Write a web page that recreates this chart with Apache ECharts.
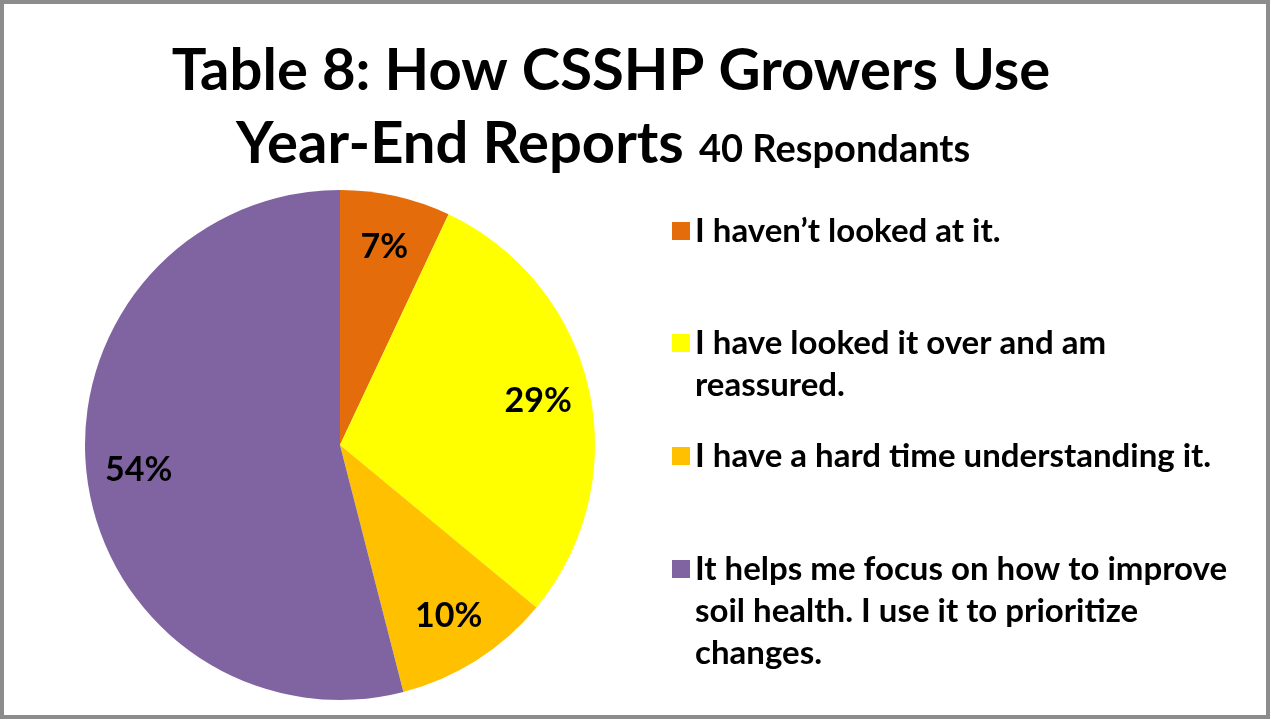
<!DOCTYPE html>
<html>
<head>
<meta charset="utf-8">
<title>Table 8: How CSSHP Growers Use Year-End Reports</title>
<script src="https://cdn.jsdelivr.net/npm/echarts@6/dist/echarts.min.js"></script>
<style>
  html, body { margin: 0; padding: 0; background: #fff; }
  #chart { width: 1271px; height: 720px; }
</style>
</head>
<body>
<div id="chart"></div>
<script>
// answers and share of respondents (%)
const categories = [
  "I haven\u2019t looked at it.",
  "I have looked it over and am reassured.",
  "I have a hard time understanding it.",
  "It helps me focus on how to improve soil health. I use it to prioritize changes."
];
const percents = [7, 29, 10, 54];
const colors = ["#E46C0A", "#FFFF00", "#FFC000", "#8064A2"];

// legend text wrapped like the original
const legendLines = [
  ["I haven\u2019t looked at it."],
  ["I have looked it over and am", "reassured."],
  ["I have a hard time understanding it."],
  ["It helps me focus on how to improve", "soil health. I use it to prioritize", "changes."]
];

const FONT = "Lato, 'Open Sans', sans-serif";
const LEGEND_LH = 42;
// y of the first text line of every legend entry
const legendRowY = [231, 343, 456, 569];

const pieData = categories.map((name, i) => ({
  name: name,
  value: percents[i],
  itemStyle: { color: colors[i] }
}));

// one legend per entry so each can sit where it does in the picture.
// legend text is centred on the marker, so blank lines are put in front
// of wrapped entries to keep the marker next to the first line
const legends = categories.map((name, i) => {
  const n = legendLines[i].length;
  return {
    data: [name],
    orient: "vertical",
    left: 672,
    top: legendRowY[i] - (n - 1) * LEGEND_LH - LEGEND_LH / 2,
    padding: 0,
    icon: "rect",
    itemWidth: 18,
    itemHeight: 18,
    selectedMode: false,
    formatter: () => "\n".repeat(n - 1) + legendLines[i].join("\n"),
    textStyle: {
      fontFamily: FONT,
      fontWeight: "bold",
      fontSize: 33,
      lineHeight: LEGEND_LH,
      color: "#000"
    }
  };
});

const titleStyle = { fontFamily: FONT, fontWeight: "bold", color: "#000" };

const chart = echarts.init(document.getElementById("chart"));

chart.setOption({
  animation: false,
  backgroundColor: "#fff",
  title: [
    {
      text: "Table 8: How CSSHP Growers Use",
      left: 606,
      top: 37,
      textAlign: "center",
      textStyle: Object.assign({ fontSize: 58 }, titleStyle)
    },
    {
      text: "Year-End Reports",
      left: 231,
      top: 110,
      textStyle: Object.assign({ fontSize: 58 }, titleStyle)
    },
    {
      text: "40 Respondants",
      left: 694,
      top: 126,
      textStyle: Object.assign({ fontSize: 38 }, titleStyle)
    }
  ],
  legend: legends,
  graphic: [{
    type: "rect",
    shape: { x: 2, y: 2, width: 1266, height: 715 },
    style: { fill: "none", stroke: "#8c8c8c", lineWidth: 4 },
    silent: true
  }],
  series: [
    {
      name: "Responses",
      type: "pie",
      center: [340, 445],
      radius: 255,
      startAngle: 90,
      clockwise: true,
      label: { show: false },
      labelLine: { show: false },
      emphasis: { disabled: true },
      data: pieData
    },
    {
      // transparent ring, only carries the percentage labels
      name: "labels",
      type: "pie",
      center: [340, 445],
      radius: [145, 255],
      startAngle: 90,
      clockwise: true,
      silent: true,
      itemStyle: { color: "rgba(0,0,0,0)" },
      label: {
        show: true,
        position: "inside",
        formatter: "{c}%",
        fontFamily: FONT,
        fontWeight: "bold",
        fontSize: 34,
        color: "#000"
      },
      labelLine: { show: false },
      emphasis: { disabled: true },
      data: categories.map((name, i) => ({ name: name, value: percents[i] }))
    }
  ]
});
</script>
</body>
</html>
